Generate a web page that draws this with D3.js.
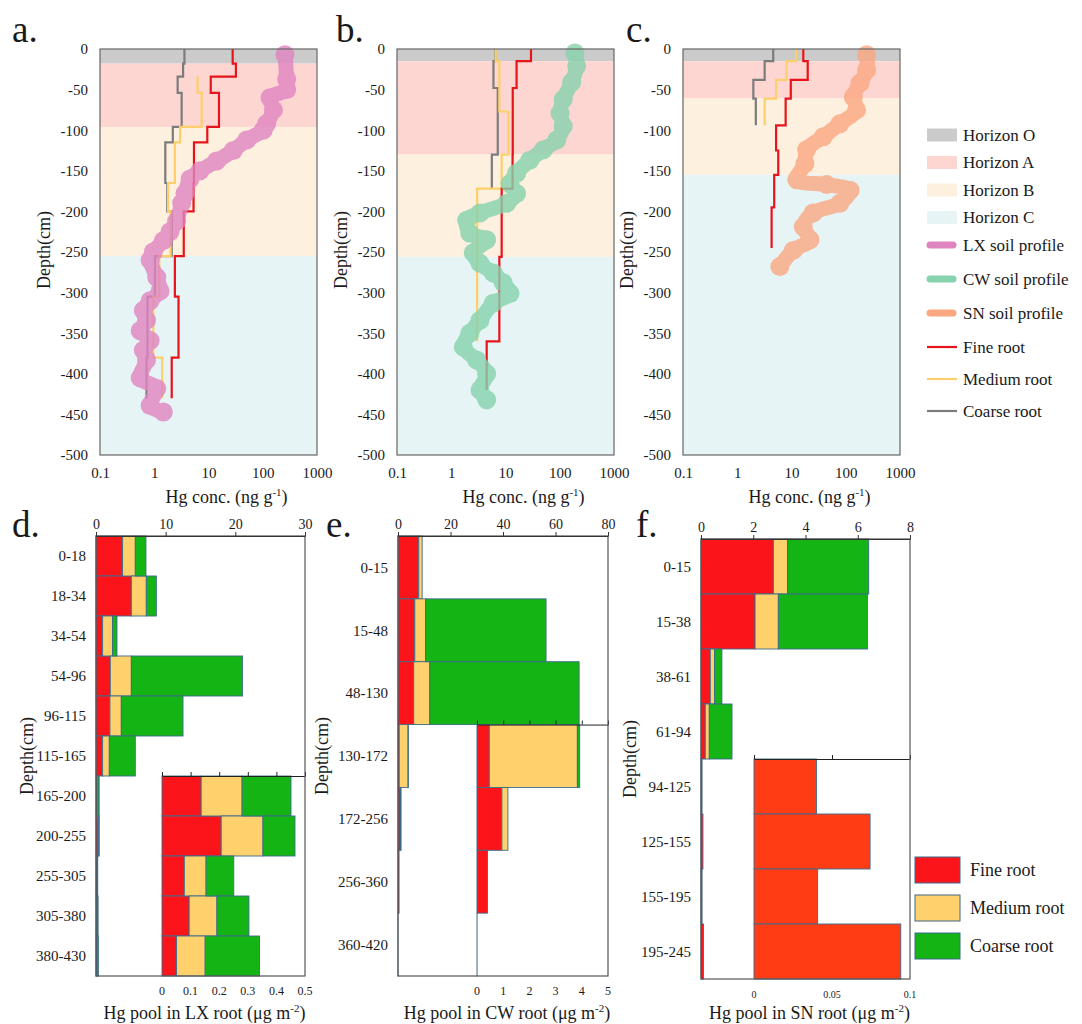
<!DOCTYPE html>
<html lang="en">
<head>
<meta charset="UTF-8">
<title>Hg in soil profiles and roots</title>
<script src="https://d3js.org/d3.v7.min.js"></script>
<style>
  body { margin: 0; background: #fff; }
  svg text { font-family: "Liberation Serif", "Times New Roman", Times, "DejaVu Serif", serif; fill: #1a1a1a; }
</style>
</head>
<body>
<svg width="1082" height="1024"></svg>
<script>
// ---------- data: soil horizons (bottom depth, cm) ----------
const horizonNames = ["Horizon O", "Horizon A", "Horizon B", "Horizon C"];
const lxHorizons = [18, 96, 255, 500];
const cwHorizons = [15, 130, 256, 500];
const snHorizons = [15, 61, 155, 500];

// ---------- data: root Hg concentration (ng/g) by depth interval ----------
const lxDepths = [0, 18, 34, 54, 96, 115, 165, 200, 255, 305, 380, 430];
const lxFine   = [27.9, 32, 11, 15.6, 9.5, 5.4, 5.3, 3.5, 2.4, 2.8, 2.1];
const lxMedium = [null, null, 6.3, 7.5, 3.0, 2.4, 1.8, 2.0, 1.24, 0.96, 1.4];
const lxCoarse = [3.6, 3.4, 2.7, 3.2, 2.2, 1.6, 1.74, 2.1, 1.03, 0.75, 0.72];

const cwDepths = [0, 15, 48, 130, 172, 256, 360, 420];
const cwFine   = [29.5, 16, 13.6, 13.5, 8.5, 7.7, 4.5];
const cwCoarse = [6.5, 6.0, 7.2, 5.6];
const cwMediumDepths = [0, 15, 77, 130, 172, 360];
const cwMedium = [6.6, 7.7, 11.3, 8.5, 3.0];

const snDepths = [0, 15, 38, 61, 94, 125, 155, 195, 245];
const snFine   = [16.5, 19.9, 9.7, 7.8, 5.2, 5.7, 4.8, 4.3];
const snMedium = [12.1, 8.1, 5.2, 3.2];
const snCoarse = [4.6, 3.2, 1.98, 2.2];

// ---------- data: soil profile Hg concentration (ng/g) ----------
const lxProfileDepth = [7, 37, 50, 60, 75, 92, 100, 112, 125, 138, 150, 160, 178, 190, 212, 225, 236, 250, 260, 281, 298, 310, 322, 334, 347, 359, 371, 383, 405, 418, 439, 447];
const lxProfileConc  = [257, 276, 276, 136, 157, 118, 102, 50.6, 28.6, 14.1, 7.0, 4.56, 3.69, 3.2, 2.59, 1.95, 1.47, 0.96, 0.84, 1.11, 1.28, 0.84, 0.63, 0.72, 0.55, 0.84, 0.63, 0.72, 0.55, 1.11, 0.84, 1.47];

const cwProfileDepth = [5, 21, 41, 62, 79, 95, 112, 124, 137, 153, 166, 178, 190, 202, 211, 227, 235, 251, 264, 276, 288, 301, 313, 334, 350, 367, 383, 400, 420, 432];
const cwProfileConc  = [191, 205, 166, 116, 101, 116, 88, 50, 28, 16, 12.1, 16, 10.5, 3.39, 1.93, 2.2, 4.5, 2.55, 3.39, 5.97, 9.1, 12.1, 5.97, 3.39, 2.2, 1.67, 2.94, 4.5, 3.39, 4.5];

const snProfileDepth = [7, 26, 42, 59, 75, 92, 108, 124, 141, 161, 167, 174, 190, 202, 219, 235, 248, 268];
const snProfileConc  = [243, 243, 183, 138, 158, 78, 38.6, 19, 17.7, 12.5, 44.6, 120, 78, 25, 16.5, 21.9, 10.8, 6.1];

const concTicks = [0.1, 1, 10, 100, 1000];
const depthTicks = [0, -50, -100, -150, -200, -250, -300, -350, -400, -450, -500];

// ---------- data: root Hg pools (ug/m2) ----------
const lxRows = ["0-18", "18-34", "34-54", "54-96", "96-115", "115-165", "165-200", "200-255", "255-305", "305-380", "380-430"];
const lxFinePool   = [3.82, 5.07, 0.95, 2.05, 2.0, 0.95, 0.137, 0.207, 0.078, 0.095, 0.051];
const lxMediumPool = [1.82, 2.15, 1.43, 3.02, 1.63, 0.96, 0.143, 0.146, 0.076, 0.097, 0.1];
const lxCoarsePool = [1.53, 1.44, 0.63, 15.97, 8.86, 3.73, 0.171, 0.112, 0.097, 0.112, 0.19];

const cwRows = ["0-15", "15-48", "48-130", "130-172", "172-256", "256-360", "360-420"];
const cwFinePool   = [7.9, 6.4, 6.0, 0.47, 0.95, 0.4, 0.003];
const cwMediumPool = [1.3, 4.1, 6.1, 3.36, 0.23, 0, 0];
const cwCoarsePool = [0, 45.9, 56.9, 0.09, 0, 0, 0];

const snRows = ["0-15", "15-38", "38-61", "61-94", "94-125", "125-155", "155-195", "195-245"];
const snFinePool   = [2.77, 2.07, 0.355, 0.164, 0.0401, 0.0744, 0.0408, 0.0941];
const snMediumPool = [0.54, 0.89, 0.165, 0.153, 0, 0, 0, 0];
const snCoarsePool = [3.11, 3.41, 0.28, 0.87, 0, 0, 0, 0];

const lxPoolTicks = [0, 10, 20, 30], lxInsetTicks = [0, 0.1, 0.2, 0.3, 0.4, 0.5];
const cwPoolTicks = [0, 20, 40, 60, 80], cwInsetTicks = [0, 1, 2, 3, 4, 5];
const snPoolTicks = [0, 2, 4, 6, 8], snInsetTicks = [0, 0.05, 0.1];

const rootNames = ["Fine root", "Medium root", "Coarse root"];
const profileNames = ["LX soil profile", "CW soil profile", "SN soil profile"];

// ---------- styles ----------
const serif = "'Liberation Serif', 'Times New Roman', Times, 'DejaVu Serif', serif";
const horizonFill = ["#cbcbcb", "#fdd6d2", "#fdf0df", "#e6f4f6"];
const rootLine = { fine: "#e8141c", medium: "#fdcf6a", coarse: "#7c7c7c" };
const rootFill = { fine: "#fb1419", medium: "#fed16c", coarse: "#13b413" };
const profileColor = ["#e084c0", "#86d3ad", "#fba781"];
const barStroke = "#3d6b8c";

const svg = d3.select("svg");

function supLabel(sel, before, sup, after) {
  sel.append("tspan").text(before);
  sel.append("tspan").attr("dy", -7).attr("font-size", 11).text(sup);
  sel.append("tspan").attr("dy", 7).text(after);
}

function vLabel(x, y, txt) {
  svg.append("text").attr("transform", `translate(${x},${y}) rotate(-90)`)
    .attr("text-anchor", "middle").attr("dominant-baseline", "central")
    .attr("font-size", 18).text(txt);
}

function letter(x, y, t) {
  svg.append("text").attr("x", x).attr("y", y).attr("font-size", 37).text(t);
}

// ---------- profile panels ----------
function stepPoints(depths, values) {
  const pts = [];
  values.forEach((v, i) => {
    if (v == null) return;
    pts.push([v, depths[i]], [v, depths[i + 1]]);
  });
  return pts;
}

function profilePanel(o) {
  const top = 49, bottom = 455;
  const g = svg.append("g");
  const x = d3.scaleLog().domain([0.1, 1000]).range([o.left, o.right]);
  const y = d3.scaleLinear().domain([0, -500]).range([top, bottom]);

  let prev = 0;
  o.horizons.forEach((h, i) => {
    g.append("rect").attr("x", o.left).attr("width", o.right - o.left)
      .attr("y", y(-prev)).attr("height", y(-h) - y(-prev)).attr("fill", horizonFill[i]);
    prev = h;
  });

  const line = d3.line().x(p => x(p[0])).y(p => y(-p[1]));
  o.roots.forEach(r => {
    g.append("path").attr("d", line(stepPoints(r.depths, r.values)))
      .attr("fill", "none").attr("stroke", rootLine[r.key]).attr("stroke-width", 2.2);
  });

  const prof = o.pDepth.map((d, i) => [o.pConc[i], d]);
  const pg = g.append("g").attr("opacity", 0.8);
  pg.append("path").attr("d", d3.line().x(p => x(p[0])).y(p => y(-p[1])).curve(d3.curveCatmullRom)(prof))
    .attr("fill", "none").attr("stroke", o.color).attr("stroke-width", 15)
    .attr("stroke-linecap", "round").attr("stroke-linejoin", "round");
  pg.selectAll("circle").data(prof).join("circle")
    .attr("cx", p => x(p[0])).attr("cy", p => y(-p[1])).attr("r", 9.5).attr("fill", o.color);

  g.append("rect").attr("x", o.left).attr("y", top).attr("width", o.right - o.left)
    .attr("height", bottom - top).attr("fill", "none").attr("stroke", "#666").attr("stroke-width", 1.2);

  g.append("g").attr("transform", `translate(${o.left},0)`)
    .call(d3.axisLeft(y).tickValues(depthTicks).tickSize(0).tickPadding(12).tickFormat(String))
    .attr("font-size", 15).call(a => a.select(".domain").remove());
  g.append("g").attr("transform", `translate(0,${bottom})`)
    .call(d3.axisBottom(x).tickValues(concTicks).tickSize(0).tickPadding(12).tickFormat(String))
    .attr("font-size", 15).call(a => a.select(".domain").remove());

  const t = g.append("text").attr("x", (o.left + o.right) / 2 + 18).attr("y", 503)
    .attr("text-anchor", "middle").attr("font-size", 18);
  supLabel(t, "Hg conc. (ng g", "-1", ")");
  vLabel(o.left - 56, 250, "Depth(cm)");
}

profilePanel({ left: 100, right: 317, horizons: lxHorizons, color: profileColor[0],
  pDepth: lxProfileDepth, pConc: lxProfileConc,
  roots: [{ key: "coarse", depths: lxDepths, values: lxCoarse },
          { key: "medium", depths: lxDepths, values: lxMedium },
          { key: "fine", depths: lxDepths, values: lxFine }] });
profilePanel({ left: 397, right: 614, horizons: cwHorizons, color: profileColor[1],
  pDepth: cwProfileDepth, pConc: cwProfileConc,
  roots: [{ key: "coarse", depths: cwDepths, values: cwCoarse },
          { key: "medium", depths: cwMediumDepths, values: cwMedium },
          { key: "fine", depths: cwDepths, values: cwFine }] });
profilePanel({ left: 683, right: 900, horizons: snHorizons, color: profileColor[2],
  pDepth: snProfileDepth, pConc: snProfileConc,
  roots: [{ key: "coarse", depths: snDepths, values: snCoarse },
          { key: "medium", depths: snDepths, values: snMedium },
          { key: "fine", depths: snDepths, values: snFine }] });

letter(12, 42, "a.");
letter(336, 42, "b.");
letter(626, 42, "c.");

// ---------- legend (top right) ----------
const lg = svg.append("g");
horizonNames.forEach((n, i) => {
  const cy = 135 + i * 27.5;
  lg.append("rect").attr("x", 927).attr("y", cy - 6.5).attr("width", 30).attr("height", 13).attr("fill", horizonFill[i]);
  lg.append("text").attr("x", 963).attr("y", cy).attr("dy", "0.35em").attr("font-size", 17).text(n);
});
profileNames.forEach((n, i) => {
  const cy = 245 + i * 34;
  lg.append("line").attr("x1", 930).attr("x2", 953).attr("y1", cy).attr("y2", cy)
    .attr("stroke", profileColor[i]).attr("stroke-width", 7).attr("stroke-linecap", "round");
  lg.append("text").attr("x", 963).attr("y", cy).attr("dy", "0.35em").attr("font-size", 17).text(n);
});
["fine", "medium", "coarse"].forEach((k, i) => {
  const cy = 347 + i * 32;
  lg.append("line").attr("x1", 927).attr("x2", 957).attr("y1", cy).attr("y2", cy)
    .attr("stroke", rootLine[k]).attr("stroke-width", 2.2);
  lg.append("text").attr("x", 963).attr("y", cy).attr("dy", "0.35em").attr("font-size", 17).text(rootNames[i]);
});

// ---------- bar panels ----------
const rootKeys = ["fine", "medium", "coarse"];

function drawStack(g, table, x, y, insetFine) {
  const series = d3.stack().keys(rootKeys)(table);
  g.selectAll(null).data(series).join("g")
    .attr("fill", d => (d.key === "fine" && insetFine) ? insetFine : rootFill[d.key])
    .selectAll("rect").data(d => d).join("rect")
    .attr("x", d => x(d[0])).attr("width", d => x(d[1]) - x(d[0]))
    .attr("y", d => y(d.data.row)).attr("height", y.bandwidth())
    .attr("stroke", barStroke).attr("stroke-width", 0.9);
}

function barPanel(o) {
  const g = svg.append("g");
  const y = d3.scaleBand().domain(o.rows).range([o.top, o.bottom]);
  const x = d3.scaleLinear().domain([0, o.ticks[o.ticks.length - 1]]).range([o.left, o.right]);
  const table = o.rows.map((r, i) => ({ row: r, fine: o.fine[i], medium: o.medium[i], coarse: o.coarse[i] }));

  drawStack(g, table, x, y, null);

  // inset with finer scale for the deeper rows
  const yTop = y(o.rows[o.insetStart]);
  const xi = d3.scaleLinear().domain([0, o.insetTicks[o.insetTicks.length - 1]]).range([o.insetLeft, o.right]);
  g.append("rect").attr("x", o.insetLeft).attr("y", yTop).attr("width", o.right - o.insetLeft)
    .attr("height", o.bottom - yTop).attr("fill", "#fff");
  drawStack(g, table.slice(o.insetStart), xi, y, o.insetFine);
  g.append("g").attr("transform", `translate(0,${yTop})`)
    .call(d3.axisTop(xi).tickValues(o.insetTicks).tickSize(4).tickSizeOuter(0).tickFormat(""))
    .call(a => a.selectAll("line,path").attr("stroke", "#222"));
  g.selectAll(null).data(o.insetTicks).join("text")
    .attr("x", d => xi(d)).attr("y", o.bottom + 19).attr("text-anchor", "middle")
    .attr("font-size", o.insetFont).text(String);

  g.append("rect").attr("x", o.left).attr("y", o.top).attr("width", o.right - o.left)
    .attr("height", o.bottom - o.top).attr("fill", "none").attr("stroke", "#555").attr("stroke-width", 1.2);
  g.append("g").attr("transform", `translate(0,${o.top})`)
    .call(d3.axisTop(x).tickValues(o.ticks).tickSize(4).tickSizeOuter(0).tickFormat(String))
    .attr("font-size", 14).call(a => a.selectAll("line,path").attr("stroke", "#333"));

  g.selectAll(null).data(o.rows).join("text")
    .attr("x", o.left - 10).attr("y", d => y(d) + y.bandwidth() / 2).attr("dy", "0.35em")
    .attr("text-anchor", "end").attr("font-size", 15).text(d => d);

  const t = g.append("text").attr("x", (o.left + o.right) / 2 + 4).attr("y", 1019)
    .attr("text-anchor", "middle").attr("font-size", 18);
  supLabel(t, `Hg pool in ${o.site} root (\u03bcg m`, "-2", ")");
  vLabel(o.labelX, (o.top + o.bottom) / 2, "Depth(cm)");
}

barPanel({ site: "LX", rows: lxRows, fine: lxFinePool, medium: lxMediumPool, coarse: lxCoarsePool,
  left: 96, right: 305, top: 536, bottom: 976, ticks: lxPoolTicks,
  insetStart: 6, insetLeft: 162, insetTicks: lxInsetTicks, insetFont: 12, labelX: 27 });
barPanel({ site: "CW", rows: cwRows, fine: cwFinePool, medium: cwMediumPool, coarse: cwCoarsePool,
  left: 398, right: 608, top: 536, bottom: 976, ticks: cwPoolTicks,
  insetStart: 3, insetLeft: 477, insetTicks: cwInsetTicks, insetFont: 12, labelX: 322 });
barPanel({ site: "SN", rows: snRows, fine: snFinePool, medium: snMediumPool, coarse: snCoarsePool,
  left: 701, right: 910, top: 539, bottom: 979, ticks: snPoolTicks,
  insetStart: 4, insetLeft: 754, insetTicks: snInsetTicks, insetFont: 10, labelX: 630,
  insetFine: "#ff3c14" });

letter(12, 537, "d.");
letter(326, 537, "e.");
letter(636, 537, "f.");

// ---------- legend (bottom right) ----------
["fine", "medium", "coarse"].forEach((k, i) => {
  const cy = 870 + i * 38;
  svg.append("rect").attr("x", 915).attr("y", cy - 13).attr("width", 45).attr("height", 26)
    .attr("fill", rootFill[k]).attr("stroke", barStroke).attr("stroke-width", 1);
  svg.append("text").attr("x", 970).attr("y", cy).attr("dy", "0.35em").attr("font-size", 18).text(rootNames[i]);
});

// make sure every label uses the serif face (axes set their own family)
svg.selectAll("g").filter(function () { return this.hasAttribute("font-family"); }).attr("font-family", serif);
svg.selectAll("text").attr("font-family", serif);
</script>
</body>
</html>
